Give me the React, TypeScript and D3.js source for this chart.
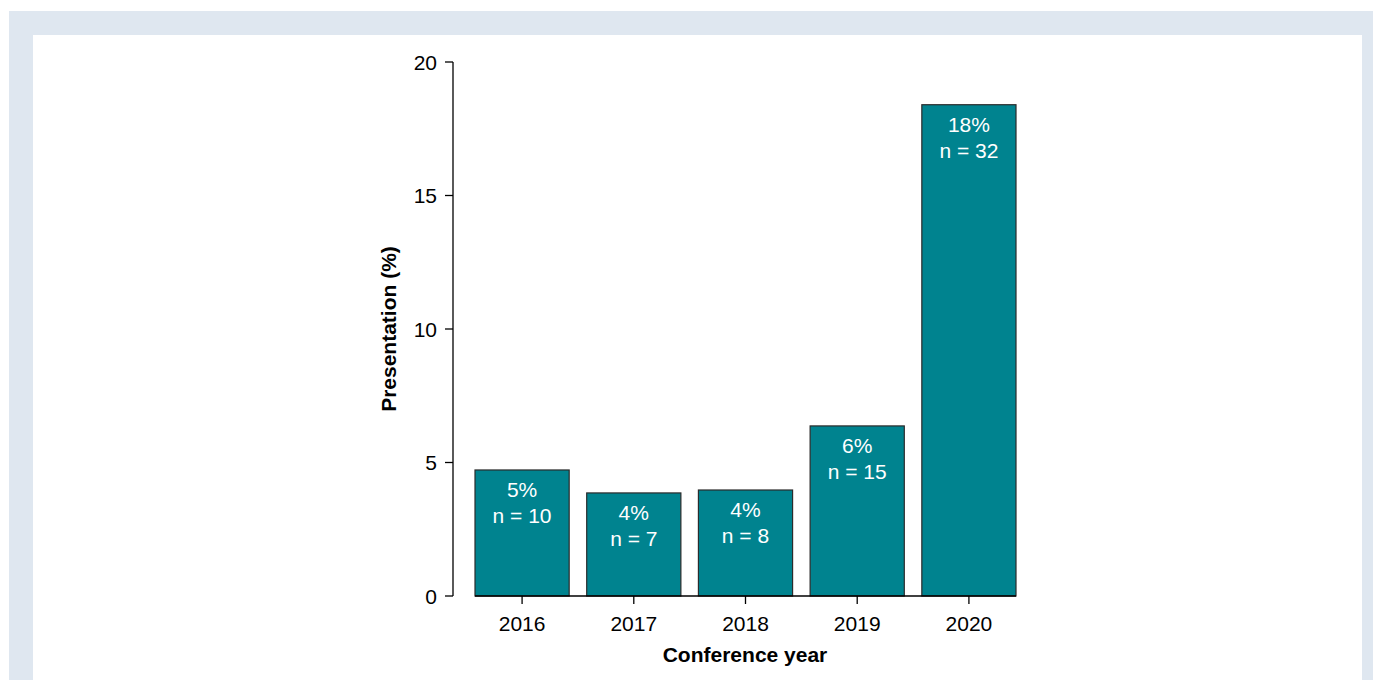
import React from "react";
import * as d3 from "d3";

const years = ["2016", "2017", "2018", "2019", "2020"];
const percentValues = [4.72, 3.86, 3.97, 6.37, 18.4];
const percentLabels = ["5%", "4%", "4%", "6%", "18%"];
const countLabels = ["n = 10", "n = 7", "n = 8", "n = 15", "n = 32"];
const yTicks = [0, 5, 10, 15, 20];

const W = 1373;
const H = 680;

export default function App() {
  const x = d3.scaleBand<string>().domain(years).range([475, 1016]).paddingInner(0.157).paddingOuter(0);
  const y = d3.scaleLinear().domain([0, 20]).range([596, 62]);
  const font = "'Liberation Sans', Arial, sans-serif";
  const axisX = 453;
  const fs = 21;
  return (
    <svg width={W} height={H} style={{ position: "absolute", left: 0, top: 0 }} fontFamily={font}>
      <rect x={9} y={11} width={W - 9} height={H - 11} fill="#dfe7f0" />
      <rect x={33} y={35} width={1329} height={H - 35} fill="#ffffff" />
      {/* y axis */}
      <line x1={axisX} x2={axisX} y1={y(20)} y2={y(0)} stroke="#000" strokeWidth={1.3} />
      {yTicks.map((t) => (
        <g key={t}>
          <line x1={axisX - 8} x2={axisX} y1={y(t)} y2={y(t)} stroke="#000" strokeWidth={1.3} />
          <text x={axisX - 16} y={y(t)} dy="0.36em" textAnchor="end" fontSize={fs} fill="#000">
            {t}
          </text>
        </g>
      ))}
      <text
        transform={`translate(396,${(y(0) + y(20)) / 2}) rotate(-90)`}
        textAnchor="middle"
        fontSize={fs}
        fontWeight="bold"
        fill="#000"
      >
        Presentation (%)
      </text>
      {/* bars */}
      {years.map((yr, i) => {
        const bx = x(yr)!;
        const bw = x.bandwidth();
        const top = y(percentValues[i]);
        const cx = bx + bw / 2;
        return (
          <g key={yr}>
            <rect x={bx} y={top} width={bw} height={y(0) - top} fill="#00838f" stroke="#2b2b2b" strokeWidth={1.2} />
            <text x={cx} y={top + 27} textAnchor="middle" fontSize={fs} fill="#ffffff">
              {percentLabels[i]}
            </text>
            <text x={cx} y={top + 53} textAnchor="middle" fontSize={fs} fill="#ffffff">
              {countLabels[i]}
            </text>
          </g>
        );
      })}
      {/* x axis */}
      <line x1={475} x2={1016} y1={y(0)} y2={y(0)} stroke="#000" strokeWidth={1.3} />
      {years.map((yr) => {
        const cx = x(yr)! + x.bandwidth() / 2;
        return (
          <g key={yr}>
            <line x1={cx} x2={cx} y1={y(0)} y2={y(0) + 8} stroke="#000" strokeWidth={1.3} />
            <text x={cx} y={631} textAnchor="middle" fontSize={fs} fill="#000">
              {yr}
            </text>
          </g>
        );
      })}
      <text x={745} y={662} textAnchor="middle" fontSize={fs} fontWeight="bold" fill="#000">
        Conference year
      </text>
    </svg>
  );
}
